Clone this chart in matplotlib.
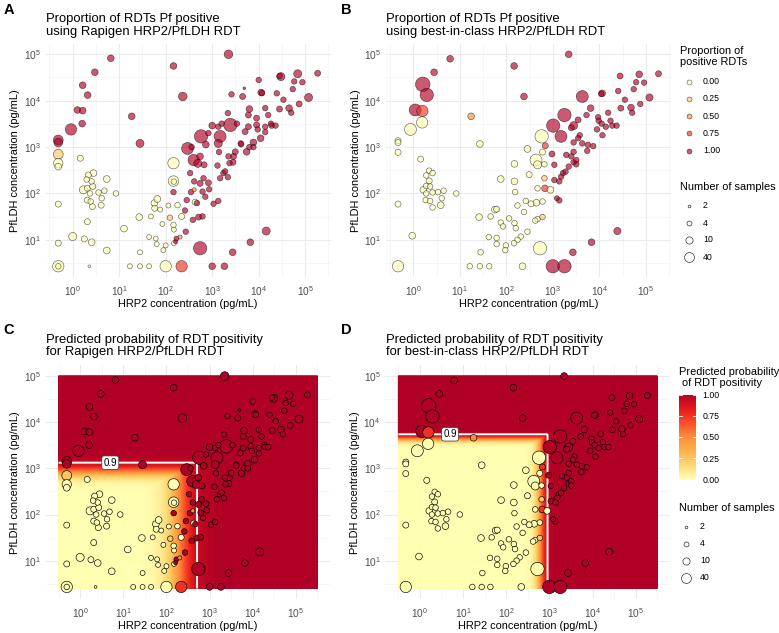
import numpy as np
import matplotlib
matplotlib.use("Agg")
import matplotlib.pyplot as plt
from matplotlib.colors import LinearSegmentedColormap, Normalize
from matplotlib.cm import ScalarMappable
from matplotlib.ticker import FixedLocator, FuncFormatter

plt.rcParams["font.family"] = ["Liberation Sans", "DejaVu Sans"]
plt.rcParams["mathtext.fontset"] = "custom"
plt.rcParams["mathtext.rm"] = "Liberation Sans"
plt.rcParams["mathtext.it"] = "Liberation Sans:italic"
plt.rcParams["mathtext.bf"] = "Liberation Sans:bold"

# ---- Rapigen HRP2/PfLDH RDT (panels A and C) ----
a_hrp2 = [
    6.6, 3.0, 1.64, 2.1, 1.26, 1.64, 1.6, 0.92, 0.49, 0.49, 0.49, 0.49, 0.49, 0.49, 0.49, 0.49, 0.49,
    1.46, 1.0, 1.78, 2.56, 2.07, 2.28, 2.17, 2.8, 2.55, 2.0, 1.7, 2.07, 2.7, 3.6, 2.36, 2.07, 2.44, 2.65,
    4.1, 4.2, 4.8, 5.4, 8.5, 5.4,
    12.7, 17, 28, 44, 28, 27, 44, 61, 64, 57, 58, 66, 48, 76, 85, 100, 89, 100, 114, 147, 150, 150, 180,
    147, 147, 150, 220, 123, 410, 204, 430, 220,
    2240, 147, 233, 18.6, 28, 335, 295, 362, 400, 490,
    575, 550, 670, 730, 830, 1000, 1350, 1480, 1350, 1400,
    1600, 1300, 830, 550, 620, 710, 860, 650, 410, 350,
    283, 260, 270, 170, 163, 147, 385, 510, 620, 470,
    1070, 1350, 2170, 1740, 1480, 1900, 2240, 2350, 2800, 2880,
    3130, 2450, 3400, 2170, 2600, 4500, 4900, 6300, 6000, 6000,
    5100, 4100, 4200, 5500, 6300, 7700, 9000, 9000, 9500, 10000,
    11300, 11800, 11000, 13800, 13800, 7700, 13800, 16000, 18300, 19000,
    23000, 24500, 28000, 30000, 28000, 34000, 45000, 50000, 54000, 58000,
    69000, 74000, 87000, 118000, 185000, 14500, 6600, 2750, 1830, 1000,
    550,
]
a_pfldh = [
    82000, 41000, 21500, 13200, 6300, 6100, 3200, 2400, 1420, 1250, 700, 450, 380, 59, 8.5, 2.7, 2.7,
    575, 11.8, 10.5, 8.9, 24.6, 2.7, 250, 275, 182, 200, 120, 130, 142, 105, 100, 72, 67, 52,
    56, 79, 115, 205, 100, 5.9,
    17.5, 2.7, 2.7, 2.7, 5.4, 31, 11.5, 10.7, 8.1, 62, 48, 76, 32, 45, 22, 7.6, 6.0, 2.7, 55, 21, 16.6, 8.5, 56,
    450, 185, 180, 32, 30, 120, 11.5, 65, 2.7,
    100000, 56000, 12300, 4600, 1200, 275, 935, 1000, 525, 445,
    1700, 630, 415, 1130, 2000, 2900, 2750, 1700, 1200, 780,
    3200, 400, 170, 165, 110, 85, 123, 213, 182, 107,
    72, 43, 15, 10.7, 9.1, 107, 27, 31, 32, 62,
    60, 69, 225, 275, 213, 300, 630, 450, 470, 630,
    790, 3000, 3200, 5400, 13700, 12300, 18500, 6600, 4900, 2750,
    2150, 1200, 1150, 790, 1000, 1000, 4200, 3000, 2400, 28000,
    15000, 14500, 1550, 2100, 2750, 1260, 6900, 4900, 3200, 2900,
    2900, 14400, 6600, 33000, 34000, 10500, 6900, 5500, 17700, 26000,
    38000, 8500, 25000, 11700, 39000, 15.5, 8.9, 5.4, 2.7, 2.7,
    6.6,
]
a_samples = [
    8, 8, 8, 8, 8, 8, 8, 100, 40, 20, 40, 30, 8, 6, 6, 100, 5,
    6, 15, 6, 8, 6, 2, 6, 8, 5, 5, 15, 6, 6, 5, 5, 6, 5, 6,
    6, 5, 5, 8, 5, 8,
    8, 4, 4, 4, 4, 8, 4, 4, 4, 8, 6, 8, 4, 4, 4, 4, 4, 100, 4, 5, 4, 4, 5,
    100, 60, 5, 6, 5, 3, 3, 6, 100,
    20, 8, 20, 8, 15, 5, 150, 5, 100, 15,
    400, 8, 6, 8, 5, 8, 5, 150, 15, 5,
    5, 5, 6, 6, 5, 5, 5, 5, 5, 5,
    5, 5, 5, 4, 3, 5, 5, 6, 5, 5,
    5, 5, 5, 5, 5, 5, 5, 5, 6, 6,
    6, 400, 5, 5, 5, 6, 2, 8, 6, 6,
    6, 5, 5, 8, 5, 5, 6, 6, 5, 5,
    8, 5, 8, 5, 5, 8, 5, 5, 5, 5,
    5, 5, 6, 15, 5, 5, 8, 5, 5, 5,
    15, 6, 5, 15, 6, 15, 8, 8, 8, 8,
    400,
]
a_prop = [
    1, 1, 1, 1, 1, 1, 1, 1, 1, 1, 0.25, 0, 0, 0, 0, 0, 0,
    0, 0, 0, 0, 0, 0, 0, 0, 0, 0, 0, 0, 0, 0, 0, 0, 0, 0,
    0, 0, 0, 0, 0, 0,
    0, 0, 0, 0, 0, 0, 0, 0, 0, 0, 0, 0, 0, 0, 0, 0, 0, 0, 0, 0, 0, 0, 0,
    0, 0, 0, 0, 0.25, 0.5, 0.5, 0, 0.75,
    1, 1, 1, 1, 1, 1, 1, 1, 1, 1,
    1, 1, 1, 1, 1, 1, 1, 1, 1, 1,
    1, 1, 1, 1, 1, 1, 1, 1, 1, 1,
    1, 1, 1, 1, 1, 1, 1, 1, 1, 1,
    1, 1, 1, 1, 1, 1, 1, 1, 1, 1,
    1, 1, 1, 1, 1, 1, 1, 1, 1, 1,
    1, 1, 1, 1, 1, 1, 1, 1, 1, 1,
    1, 1, 1, 1, 1, 1, 1, 1, 1, 1,
    1, 1, 1, 1, 1, 1, 1, 1, 1, 1,
    1, 1, 1, 1, 1, 1, 1, 1, 1, 1,
    1,
]

# ---- best-in-class HRP2/PfLDH RDT (panels B and D) ----
b_hrp2 = [
    6.2, 2.8, 1.6, 1.95, 1.1, 1.57, 17.5, 1.55, 0.87, 0.47, 0.47, 0.47, 27, 1.44, 0.47, 0.95, 0.47,
    2.2, 2.6, 1.9, 2.2, 1.9, 2.3, 1.65, 2.6, 3.4, 4.5, 1.9, 4.1, 1.85, 2.3, 3.9, 2.6, 8.4,
    150, 76, 150, 310, 285, 575, 435, 470, 600, 660,
    155, 470, 263, 340, 445, 600, 174, 240, 470, 420,
    285, 205, 174, 147, 57, 62, 46, 26, 115, 76,
    85, 150, 160, 42, 62, 62, 98, 95, 28, 16.4,
    27, 43, 223, 530, 660, 600, 690, 680, 890,
    2200, 147, 240, 4300, 1780, 1020, 1500, 2800, 6500, 5300,
    3500, 2500, 3800, 4300, 5700, 7400, 5500, 3500, 2800, 9400,
    9700, 8900, 11200, 11700, 15500, 17400, 13800, 19000, 23500, 11500,
    11000, 25500, 29000, 28000, 35500, 48000, 51000, 55000, 62000, 72000,
    76000, 92000, 120000, 187000, 960, 1080, 1660, 1510, 1080, 1380,
    1880, 1380, 2500, 2800, 3200, 3200, 1950, 2800, 2200, 1220,
    24500, 6800, 2700, 1000, 1780,
]
b_pfldh = [
    80000, 41000, 22500, 13300, 6300, 6000, 4600, 3400, 2400, 1370, 1250, 770, 1170, 550, 59, 12.3, 2.7,
    310, 275, 245, 187, 145, 141, 120, 105, 107, 115, 100, 79, 72, 69, 56, 50, 100,
    435, 205, 182, 255, 910, 1700, 525, 415, 780, 425,
    107, 129, 69, 60, 63, 67, 55, 40, 28, 26,
    15, 11.8, 10, 8.5, 45, 46, 32, 31, 29, 23.6,
    19.5, 23, 17.8, 11.5, 11, 8.1, 7.6, 6.0, 5.4, 2.7,
    2.7, 2.7, 2.7, 6.6, 213, 31, 1070, 129, 120,
    100000, 56000, 12300, 12300, 4900, 2900, 1700, 2900, 6900, 4900,
    3850, 2600, 1800, 1200, 1120, 1050, 830, 1550, 1260, 4400,
    3700, 2400, 3200, 1800, 5500, 3700, 2750, 2900, 2900, 14400,
    14000, 16200, 6900, 34000, 10500, 7100, 5500, 17700, 25000, 37000,
    8500, 24500, 11700, 38000, 710, 415, 275, 230, 195, 182,
    295, 71, 630, 470, 525, 425, 680, 790, 380, 79,
    15.5, 8.9, 5.4, 2.7, 2.7,
]
b_samples = [
    8, 8, 1000, 400, 150, 100, 8, 100, 150, 6, 6, 6, 8, 6, 6, 8, 100,
    5, 5, 5, 6, 5, 5, 8, 5, 5, 5, 5, 5, 5, 5, 8, 5, 5,
    8, 8, 8, 6, 8, 400, 150, 15, 6, 5,
    5, 5, 5, 6, 8, 5, 5, 5, 5, 5,
    5, 5, 5, 5, 8, 6, 5, 8, 5, 5,
    5, 5, 5, 5, 5, 5, 5, 5, 5, 5,
    5, 5, 8, 400, 5, 5, 6, 8, 8,
    8, 8, 8, 150, 400, 400, 150, 15, 8, 5,
    6, 6, 5, 5, 5, 5, 5, 5, 5, 5,
    5, 5, 5, 5, 5, 5, 5, 5, 5, 8,
    5, 5, 6, 6, 5, 8, 5, 5, 5, 8,
    5, 5, 10, 6, 6, 5, 5, 5, 5, 5,
    5, 5, 5, 5, 5, 5, 5, 5, 5, 4,
    10, 8, 8, 400, 400,
]
b_prop = [
    1, 1, 1, 1, 1, 0.75, 0.5, 0, 0, 0, 0, 0, 0, 0, 0, 0, 0,
    0, 0, 0, 0, 0, 0, 0, 0, 0, 0, 0, 0, 0, 0, 0, 0, 0,
    0, 0, 0, 0, 0, 0, 0, 0, 0, 0,
    0, 0, 0, 0, 0, 0, 0, 0, 0, 0,
    0, 0, 0, 0, 0, 0, 0, 0, 0, 0,
    0, 0, 0, 0, 0, 0, 0, 0, 0, 0,
    0, 0, 0, 0, 0.25, 0.25, 0.75, 0.75, 0,
    1, 1, 1, 1, 1, 1, 1, 1, 1, 1,
    1, 1, 1, 1, 1, 1, 1, 1, 1, 1,
    1, 1, 1, 1, 1, 1, 1, 1, 1, 1,
    1, 1, 1, 1, 1, 1, 1, 1, 1, 1,
    1, 1, 1, 1, 1, 1, 1, 1, 1, 1,
    1, 1, 1, 1, 1, 1, 1, 1, 1, 1,
    1, 1, 1, 1, 1,
]

# logistic fits (log10 concentration) for the predicted-probability surfaces
rapigen_fit = {"hrp2_mid": 2.31, "hrp2_slope": 5.5, "ldh_mid": 2.94, "ldh_slope": 12.0}
best_fit = {"hrp2_mid": 2.80, "hrp2_slope": 14.0, "ldh_mid": 3.65, "ldh_slope": 25.0}
grid_log_hrp2 = (-0.5, 5.5)
grid_log_ldh = (0.4, 5.0)

prop_breaks = [0.0, 0.25, 0.5, 0.75, 1.0]
sample_breaks = [2, 4, 10, 40]

YLORRD = ["#FFFFB2", "#FED976", "#FEB24C", "#FD8D3C", "#FC4E2A", "#E31A1C", "#B10026"]
cmap = LinearSegmentedColormap.from_list("ylorrd", YLORRD)

W, H = 779, 633
fig = plt.figure(figsize=(W / 100, H / 100), dpi=100)


def rect(left, top, width, height):
    return [left / W, 1 - (top + height) / H, width / W, height / H]


def marker_area(n):
    r = np.maximum(-1.4 + 5.0 * np.sqrt(np.log10(np.asarray(n, float))), 0.9)
    return (2 * r * 0.72) ** 2


def log_label(v, pos):
    return r"$\mathregular{10^{%d}}$" % int(round(np.log10(v)))


def style_axes(ax, xlog, ylog):
    ax.set_xscale("log")
    ax.set_yscale("log")
    ax.set_xlim(10 ** xlog[0], 10 ** xlog[1])
    ax.set_ylim(10 ** ylog[0], 10 ** ylog[1])
    for s in ax.spines.values():
        s.set_visible(False)
    xmaj = [10.0 ** k for k in range(-1, 7) if xlog[0] <= k <= xlog[1]]
    ymaj = [10.0 ** k for k in range(-1, 7) if ylog[0] <= k <= ylog[1]]
    xmin = [10.0 ** (k + 0.5) for k in range(-2, 7) if xlog[0] <= k + 0.5 <= xlog[1]]
    ymin = [10.0 ** (k + 0.5) for k in range(-2, 7) if ylog[0] <= k + 0.5 <= ylog[1]]
    ax.xaxis.set_major_locator(FixedLocator(xmaj))
    ax.yaxis.set_major_locator(FixedLocator(ymaj))
    ax.xaxis.set_minor_locator(FixedLocator(xmin))
    ax.yaxis.set_minor_locator(FixedLocator(ymin))
    ax.xaxis.set_major_formatter(FuncFormatter(log_label))
    ax.yaxis.set_major_formatter(FuncFormatter(log_label))
    ax.xaxis.set_minor_formatter(FuncFormatter(lambda v, p: ""))
    ax.yaxis.set_minor_formatter(FuncFormatter(lambda v, p: ""))
    ax.grid(which="major", color="#EBEBEB", linewidth=0.8)
    ax.grid(which="minor", color="#F2F2F2", linewidth=0.45)
    ax.set_axisbelow(True)
    ax.tick_params(which="both", length=0, labelsize=7.3, labelcolor="#4D4D4D")
    ax.tick_params(axis="x", pad=5.0)
    ax.tick_params(axis="y", pad=3.5)
    ax.set_xlabel("HRP2 concentration (pg/mL)", fontsize=7.9)
    ax.set_ylabel("PfLDH concentration (pg/mL)", fontsize=7.9)
    ax.xaxis.set_label_coords(0.5, -0.115)
    ax.yaxis.set_label_coords(-0.108, 0.5)
    ax.xaxis.label.set_va("center")
    ax.yaxis.label.set_va("center")


def draw_points(ax, x, y, n, prop, alpha, edge):
    x = np.asarray(x, float)
    y = np.asarray(y, float)
    n = np.asarray(n, float)
    prop = np.asarray(prop, float)
    order = np.argsort(-n, kind="stable")
    fc = cmap(prop[order])
    fc[:, 3] = alpha
    ax.scatter(x[order], y[order], s=marker_area(n[order]), facecolors=fc,
               edgecolors=edge, linewidths=0.45, zorder=4)


def logistic(z):
    return 1.0 / (1.0 + np.exp(-z))


def draw_surface(ax, fit):
    gx = np.linspace(grid_log_hrp2[0], grid_log_hrp2[1], 400)
    gy = np.linspace(grid_log_ldh[0], grid_log_ldh[1], 400)
    GX, GY = np.meshgrid(gx, gy)
    p_hrp2 = logistic(fit["hrp2_slope"] * (GX - fit["hrp2_mid"]))
    p_ldh = logistic(fit["ldh_slope"] * (GY - fit["ldh_mid"]))
    P = np.maximum(p_hrp2, p_ldh)
    ax.pcolormesh(10 ** GX, 10 ** GY, P, cmap=cmap, vmin=0, vmax=1,
                  shading="gouraud", rasterized=True, zorder=1)
    ax.contour(10 ** GX, 10 ** GY, P, levels=[0.9], colors="white",
               linewidths=1.4, zorder=2)
    y09 = fit["ldh_mid"] + np.log(9.0) / fit["ldh_slope"]
    ax.text(5.0, 10 ** y09, "0.9", ha="center", va="center", fontsize=7, zorder=3,
            bbox=dict(boxstyle="round,pad=0.18,rounding_size=0.25", fc="white",
                      ec="#333333", lw=0.5))


AB_X, AB_Y = (-0.58, 5.55), (0.2, 5.23)
CD_X, CD_Y = (-0.8, 5.8), (0.17, 5.23)

ax_a = fig.add_axes(rect(45.7, 43.6, 285.1, 233.4))
ax_b = fig.add_axes(rect(386.3, 43.6, 285.1, 233.4))
ax_c = fig.add_axes(rect(45.6, 365.4, 284.8, 233.6))
ax_d = fig.add_axes(rect(385.4, 365.4, 284.8, 233.6))

for ax in (ax_a, ax_b):
    style_axes(ax, AB_X, AB_Y)
for ax in (ax_c, ax_d):
    style_axes(ax, CD_X, CD_Y)

draw_points(ax_a, a_hrp2, a_pfldh, a_samples, a_prop, 0.65, (0, 0, 0, 0.6))
draw_points(ax_b, b_hrp2, b_pfldh, b_samples, b_prop, 0.65, (0, 0, 0, 0.6))
draw_surface(ax_c, rapigen_fit)
draw_surface(ax_d, best_fit)
draw_points(ax_c, a_hrp2, a_pfldh, a_samples, a_prop, 1.0, "black")
draw_points(ax_d, b_hrp2, b_pfldh, b_samples, b_prop, 1.0, "black")

titles = [
    (46.5, 25.3, "Proportion of RDTs Pf positive\nusing Rapigen HRP2/PfLDH RDT"),
    (386.5, 25.3, "Proportion of RDTs Pf positive\nusing best-in-class HRP2/PfLDH RDT"),
    (46.5, 346.0, "Predicted probability of RDT positivity\nfor Rapigen HRP2/PfLDH RDT"),
    (386.5, 346.0, "Predicted probability of RDT positivity\nfor best-in-class HRP2/PfLDH RDT"),
]
for x, y, t in titles:
    fig.text(x / W, 1 - y / H, t, fontsize=9.4, ha="left", va="center", linespacing=1.05)
for x, y, t in [(9, 10, "A"), (346, 10, "B"), (9, 330, "C"), (346, 330, "D")]:
    fig.text(x / W, 1 - y / H, t, fontsize=10.5, fontweight="bold", ha="center", va="center")

# legends drawn in a pixel-space overlay
lax = fig.add_axes([0, 0, 1, 1], zorder=10)
lax.set_xlim(0, W)
lax.set_ylim(H, 0)
lax.axis("off")

lax.text(680, 56.5, "Proportion of\npositive RDTs", fontsize=7.9, ha="left", va="center", linespacing=1.1)
for i, v in enumerate(prop_breaks):
    yy = 81.7 + i * 17.2
    c = list(cmap(v))
    c[3] = 0.65
    lax.scatter([689], [yy], s=marker_area(4), facecolors=[c], edgecolors=[(0, 0, 0, 0.6)], linewidths=0.45)
    lax.text(703, yy, f"{v:.2f}", fontsize=6.3, ha="left", va="center")


def sample_legend(x0, ytitle, y0, dy, xc, xt):
    lax.text(x0, ytitle, "Number of samples", fontsize=7.9, ha="left", va="center")
    for i, n in enumerate(sample_breaks):
        yy = y0 + i * dy
        lax.scatter([xc], [yy], s=marker_area(n), facecolors="white", edgecolors="#333333", linewidths=0.5)
        lax.text(xt, yy, str(n), fontsize=6.3, ha="left", va="center")


sample_legend(680, 186.7, 206.0, 17.0, 689, 703)
sample_legend(679, 507.7, 526.7, 17.0, 686, 700)

lax.text(679, 377.5, "Predicted probability\n of RDT positivity", fontsize=7.9, ha="left", va="center", linespacing=1.1)
cax = fig.add_axes(rect(679, 394.5, 17, 85))
cb = fig.colorbar(ScalarMappable(norm=Normalize(0, 1), cmap=cmap), cax=cax)
cb.outline.set_visible(False)
cb.set_ticks(prop_breaks)
cb.set_ticklabels([f"{v:.2f}" for v in prop_breaks])
cax.tick_params(length=0, labelsize=6.3, pad=4.5, labelcolor="black")
for v in prop_breaks:
    cax.plot([0, 0.2], [v, v], color="white", lw=0.6)
    cax.plot([0.8, 1.0], [v, v], color="white", lw=0.6)

fig.savefig("out.png", dpi=100)
